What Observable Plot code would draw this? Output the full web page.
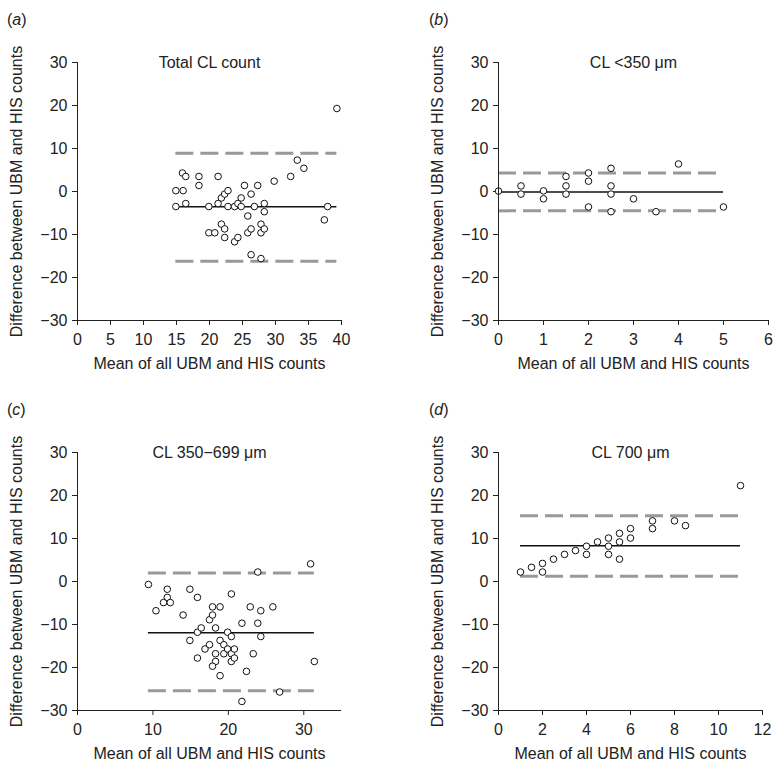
<!DOCTYPE html>
<html><head><meta charset="utf-8">
<script src="https://cdn.jsdelivr.net/npm/d3@7"></script>
<script src="https://cdn.jsdelivr.net/npm/@observablehq/plot@0.6"></script>
<style>
body{margin:0;background:#fff;overflow:hidden;}
#wrap{position:relative;width:777px;height:771px;font-family:"Liberation Sans",Arial,sans-serif;color:#222;}
.panel{position:absolute;}
.lab{position:absolute;font-size:16px;line-height:18px;color:#222;}
</style></head><body><div id="wrap"></div>
<script>
// ---- data ----
const yTicks = [-30, -20, -10, 0, 10, 20, 30];
const xLabel = "Mean of all UBM and HIS counts";
const yLabel = "Difference between UBM and HIS counts";

// (a) Total CL count
const aTitle = "Total CL count";
const aTicks = [0, 5, 10, 15, 20, 25, 30, 35, 40];
const aX = [39.3,14.9,16.0,14.9,15.9,16.4,16.4,18.4,18.4,21.3,19.9,19.9,20.8,21.3,21.8,22.3,22.8,22.8,21.8,22.3,22.3,23.8,24.3,24.8,24.8,23.8,24.3,25.3,25.8,26.3,25.8,26.3,26.8,26.3,27.3,27.8,27.8,27.8,28.3,28.3,28.3,29.8,32.3,33.3,34.3,37.4,37.9];
const aY = [19.3,0.2,0.2,-3.5,4.3,3.5,-2.8,3.5,1.4,3.5,-3.5,-9.6,-9.6,-2.8,-1.5,-0.6,0.2,-3.5,-7.6,-8.7,-10.7,-3.5,-2.8,-1.5,-3.5,-11.7,-10.7,1.4,-5.7,-0.6,-9.6,-8.7,-3.5,-14.7,1.4,-15.6,-7.6,-9.6,-8.7,-2.8,-4.7,2.4,3.5,7.3,5.4,-6.6,-3.5];
const aLines = [-3.55, 8.9, -16.2]; // mean, upper, lower

// (b) CL <350 µm
const bTitle = "CL <350 \u03bcm";
const bTicks = [0, 1, 2, 3, 4, 5, 6];
const bX = [0,0.5,0.5,1,1,1.5,1.5,1.5,2,2,2,2.5,2.5,2.5,2.5,3,3.5,4,5];
const bY = [0.1,1.3,-0.6,0.15,-1.7,3.5,1.3,-0.6,4.3,2.4,-3.6,5.4,1.3,-0.6,-4.7,-1.7,-4.7,6.4,-3.6];
const bLines = [-0.1, 4.3, -4.5];

// (c) CL 350-699 µm
const cTitle = "CL 350\u2212699 \u03bcm";
const cTicks = [0, 10, 20, 30];
const cX = [9.4,10.4,11.9,11.9,11.4,12.3,14.0,14.9,15.9,14.9,15.9,16.4,15.9,16.9,17.5,17.9,17.9,17.5,18.3,18.9,18.3,18.3,17.9,18.9,18.9,19.4,19.4,19.9,19.9,20.4,20.4,20.4,20.4,20.8,20.8,21.8,22.4,21.8,22.9,23.3,23.9,23.9,24.3,24.3,25.9,26.8,30.9,31.4];
const cY = [-0.7,-6.8,-1.8,-3.7,-4.9,-4.9,-7.8,-1.8,-3.7,-13.7,-11.8,-10.8,-17.8,-15.7,-8.9,-7.8,-5.9,-14.7,-10.8,-5.9,-16.8,-18.6,-19.7,-21.9,-13.7,-14.7,-16.8,-11.8,-15.7,-2.9,-12.8,-16.8,-18.6,-15.7,-17.8,-9.7,-20.9,-27.9,-5.9,-16.8,2.2,-9.7,-6.8,-12.8,-5.9,-25.7,4.1,-18.6];
const cLines = [-11.9, 2.0, -25.4];

// (d) CL 700 µm
const dTitle = "CL 700 \u03bcm";
const dTicks = [0, 2, 4, 6, 8, 10, 12];
const dX = [1,1.5,2,2,2.5,3,3.5,4,4,4.5,5,5,5,5.5,5.5,5.5,6,6,7,7,8,8.5,11];
const dY = [2.2,3.3,4.2,2.2,5.2,6.3,7.2,8.2,6.3,9.2,10.1,8.2,6.3,11.2,9.2,5.2,12.3,10.1,14.1,12.3,14.1,13.0,22.3];
const dLines = [8.3, 15.3, 1.2];

const FONT = '"Liberation Sans", Arial, sans-serif';
const fmt = d3.format("d");

function panel(cfg) {
  const pts = cfg.xs.map((x, i) => ({x, y: cfg.ys[i]}));
  const [x0, x1] = d3.extent(cfg.xs);
  const [mean, upper, lower] = cfg.lines;
  const H = 385;
  const plot = Plot.plot({
    width: cfg.width, height: H,
    marginLeft: 77, marginRight: cfg.mr, marginTop: 62, marginBottom: 65,
    style: {fontFamily: FONT, fontSize: "16px", color: "#222", background: "transparent", overflow: "visible"},
    x: {domain: cfg.xDomain, ticks: cfg.xTicks, tickFormat: fmt, tickSize: 5, tickPadding: 8, label: null},
    y: {domain: [-30, 30], ticks: yTicks, tickFormat: fmt, tickSize: 5, tickPadding: 5, label: null},
    marks: [
      Plot.ruleY([{y: upper}, {y: lower}], {y: "y", x1: () => x0, x2: () => x1, stroke: "#999", strokeWidth: 3, strokeDasharray: "18,7"}),
      Plot.ruleY([{y: mean}], {y: "y", x1: () => x0, x2: () => x1, stroke: "#111", strokeWidth: 1.5}),
      Plot.dot(pts, {x: "x", y: "y", r: 3.3, stroke: "#111", fill: "white", strokeWidth: 1}),
      Plot.ruleX([cfg.xDomain[0]], {stroke: "#222"}),
      Plot.ruleY([-30], {stroke: "#222"}),
      Plot.text([cfg.title], {text: d => d, frameAnchor: "top", textAnchor: "middle", lineAnchor: "middle", fontSize: 16, fill: "#222"}),
      Plot.text([xLabel], {text: d => d, frameAnchor: "bottom", textAnchor: "middle", lineAnchor: "middle", dy: 43, fontSize: 16, fill: "#222"}),
      Plot.text([yLabel], {text: d => d, frameAnchor: "left", textAnchor: "middle", lineAnchor: "middle", rotate: -90, dx: -61, fontSize: 16, fill: "#222"})
    ]
  });
  const div = document.createElement("div");
  div.className = "panel";
  div.style.left = cfg.left + "px";
  div.style.top = cfg.top + "px";
  div.appendChild(plot);
  document.getElementById("wrap").appendChild(div);

  const lab = document.createElement("div");
  lab.className = "lab";
  lab.style.left = (cfg.left + cfg.labX) + "px";
  lab.style.top = (cfg.top + 11) + "px";
  lab.innerHTML = "(<i>" + cfg.letter + "</i>)";
  document.getElementById("wrap").appendChild(lab);
}

panel({letter: "a", left: 0, top: 0, width: 388, mr: 47, xDomain: [0, 40], xTicks: aTicks, xs: aX, ys: aY, lines: aLines, title: aTitle, labX: 7});
panel({letter: "b", left: 421, top: 0, width: 356, mr: 9, xDomain: [0, 6], xTicks: bTicks, xs: bX, ys: bY, lines: bLines, title: bTitle, labX: 8});
panel({letter: "c", left: 0, top: 390, width: 388, mr: 47, xDomain: [0, 35], xTicks: cTicks, xs: cX, ys: cY, lines: cLines, title: cTitle, labX: 7});
panel({letter: "d", left: 421, top: 390, width: 356, mr: 15, xDomain: [0, 12], xTicks: dTicks, xs: dX, ys: dY, lines: dLines, title: dTitle, labX: 8});
</script></body></html>
